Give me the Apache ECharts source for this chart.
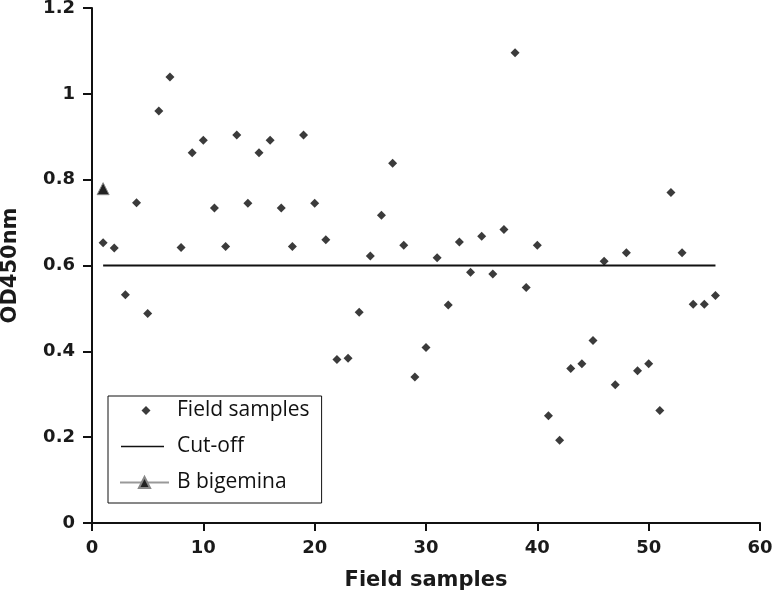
<!DOCTYPE html>
<html><head><meta charset="utf-8">
<script src="https://cdn.jsdelivr.net/npm/echarts@6/dist/echarts.min.js"></script>
<style>html,body{margin:0;padding:0;background:#fff}#c{width:774px;height:603px}</style>
</head><body><div id="c"></div>
<script>
const sampleIds = [1,2,3,4,5,6,7,8,9,10,11,12,13,14,15,16,17,18,19,20,21,22,23,24,25,26,27,28,29,30,31,32,33,34,35,36,37,38,39,40,41,42,43,44,45,46,47,48,49,50,51,52,53,54,55,56];
const fieldValues = [0.653,0.641,0.532,0.746,0.488,0.960,1.039,0.642,0.863,0.892,0.734,0.644,0.904,0.745,0.863,0.892,0.734,0.644,0.904,0.745,0.660,0.381,0.384,0.491,0.622,0.717,0.838,0.647,0.340,0.409,0.618,0.508,0.655,0.584,0.668,0.580,0.684,1.096,0.549,0.647,0.250,0.193,0.360,0.371,0.425,0.610,0.322,0.630,0.355,0.371,0.262,0.770,0.630,0.510,0.510,0.530];
const cutoffX = [1, 56];
const cutoffValue = 0.6;
const bigeminaX = [1];
const bigeminaValues = [0.779];
const xTicks = [0,10,20,30,40,50,60];
const yTicks = [0,0.2,0.4,0.6,0.8,1,1.2];

const boldFam = '"DejaVu Sans", sans-serif';
const legFam = '"Open Sans", sans-serif';
const chart = echarts.init(document.getElementById('c'), null, {renderer:'canvas'});
chart.setOption({
  animation:false,
  backgroundColor:'#fff',
  grid:{left:92, right:14, top:8, bottom:80, containLabel:false, outerBoundsMode:'none'},
  xAxis:{
    type:'value', min:xTicks[0], max:xTicks[xTicks.length-1], interval:10,
    name:'Field samples', nameLocation:'middle', nameGap:47,
    nameTextStyle:{fontFamily:boldFam, fontWeight:'bold', fontSize:21, color:'#1a1a1a'},
    axisLine:{show:true, onZero:false, lineStyle:{color:'#111', width:2}},
    axisTick:{show:true, length:8, lineStyle:{color:'#111', width:2}},
    axisLabel:{fontFamily:boldFam, fontWeight:'bold', fontSize:18, color:'#1a1a1a', margin:16},
    splitLine:{show:false}
  },
  yAxis:{
    type:'value', min:yTicks[0], max:yTicks[yTicks.length-1], interval:0.2,
    name:'OD450nm', nameLocation:'middle', nameGap:71, nameRotate:90,
    nameTextStyle:{fontFamily:boldFam, fontWeight:'bold', fontSize:21, color:'#1a1a1a'},
    axisLine:{show:true, lineStyle:{color:'#111', width:2}},
    axisTick:{show:true, length:9, lineStyle:{color:'#111', width:2}},
    axisLabel:{fontFamily:boldFam, fontWeight:'bold', fontSize:18, color:'#1a1a1a', margin:17,
      formatter:v=>String(Math.round(v*10)/10)},
    splitLine:{show:false}
  },
  legend:{
    orient:'vertical', left:108, top:396,
    borderColor:'#111', borderWidth:1, padding:[4,12,10,11],
    itemWidth:49, itemHeight:14, itemGap:15,
    textStyle:{fontFamily:legFam, fontSize:21, color:'#111', lineHeight:21, padding:[0,0,0,3]},
    data:[
      {name:'Field samples', icon:'path://M0,0M49,14M26,2.5L30.5,7L26,11.5L21.5,7Z'},
      {name:'Cut-off', icon:'path://M0,0M49,14M1,6.2L44,6.2L44,7.8L1,7.8Z'},
      {name:'B bigemina'}
    ]
  },
  series:[
    {name:'Field samples', type:'scatter', symbol:'diamond', symbolSize:9,
     itemStyle:{color:'#0a0a0a'},
     data: sampleIds.map((x,i)=>[x, fieldValues[i]])},
    {name:'Cut-off', type:'line', showSymbol:false, symbol:'none',
     itemStyle:{color:'#111'},
     lineStyle:{color:'#111', width:2},
     data: cutoffX.map(x=>[x, cutoffValue])},
    {name:'B bigemina', type:'line', symbol:'triangle', symbolSize:12,
     itemStyle:{color:'#222', borderColor:'#888', borderWidth:1},
     lineStyle:{color:'#999', width:3},
     data: bigeminaX.map((x,i)=>[x, bigeminaValues[i]])}
  ]
});
</script></body></html>
